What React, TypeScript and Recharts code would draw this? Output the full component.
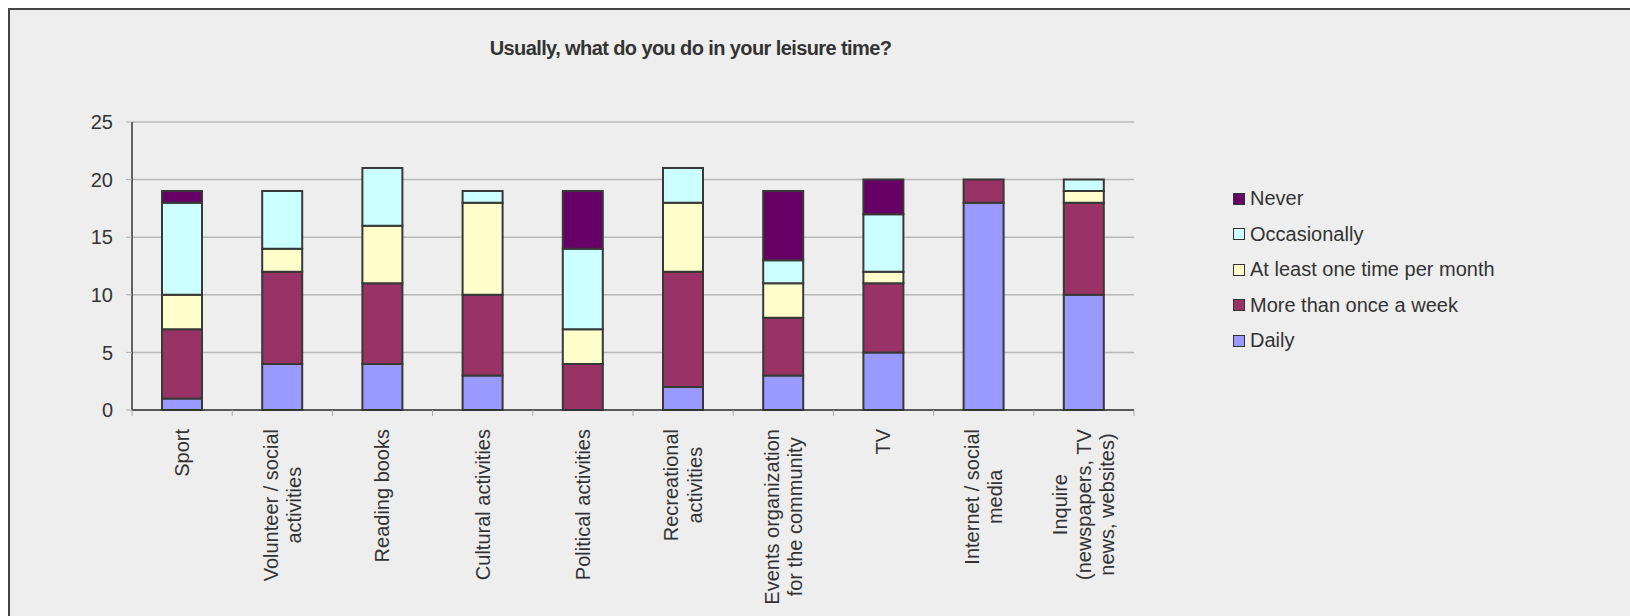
import { BarChart, Bar, XAxis, YAxis, CartesianGrid, Legend } from "recharts"

const categories = [
  "Sport",
  "Volunteer / social\nactivities",
  "Reading books",
  "Cultural activities",
  "Political activities",
  "Recreational\nactivities",
  "Events organization\nfor the community",
  "TV",
  "Internet / social\nmedia",
  "Inquire\n(newspapers, TV\nnews, websites)",
]

const daily = [1, 4, 4, 3, 0, 2, 3, 5, 18, 10]
const moreThanOnceAWeek = [6, 8, 7, 7, 4, 10, 5, 6, 2, 8]
const onceAMonth = [3, 2, 5, 8, 3, 6, 3, 1, 0, 1]
const occasionally = [8, 5, 5, 1, 7, 3, 2, 5, 0, 1]
const never = [1, 0, 0, 0, 5, 0, 6, 3, 0, 0]

const yTicks = [0, 5, 10, 15, 20, 25]

// bottom to top in the stack
const series = [
  { key: "daily", name: "Daily", color: "#9999ff", values: daily },
  { key: "week", name: "More than once a week", color: "#993366", values: moreThanOnceAWeek },
  { key: "month", name: "At least one time per month", color: "#ffffcc", values: onceAMonth },
  { key: "occ", name: "Occasionally", color: "#ccffff", values: occasionally },
  { key: "never", name: "Never", color: "#660066", values: never },
]

const data = categories.map((name, i) => {
  const row: Record<string, string | number> = { name }
  series.forEach((s) => (row[s.key] = s.values[i]))
  return row
})

const FONT = '"Liberation Sans", Arial, sans-serif'
const TEXT = "#333333"
const PLOT_W = 1002
const BAND = PLOT_W / categories.length
const LABEL_SIZE = 20

let ctx: CanvasRenderingContext2D | null = null
function textWidth(s: string) {
  if (!ctx) ctx = document.createElement("canvas").getContext("2d")
  if (!ctx) return s.length * 10
  ctx.font = `${LABEL_SIZE}px "Liberation Sans"`
  return ctx.measureText(s).width
}

function CategoryTick(props: any) {
  const { x, y, payload, index } = props
  const lines = String(payload.value).split("\n")
  const longest = Math.max(...lines.map(textWidth))
  const cy = y + 19 + longest / 2
  const lineH = 23.5
  return (
    <g>
      <line x1={x - BAND / 2} x2={x - BAND / 2} y1={y} y2={y + 6} stroke="#aaaaaa" />
      {index === categories.length - 1 && (
        <line x1={x + BAND / 2} x2={x + BAND / 2} y1={y} y2={y + 6} stroke="#aaaaaa" />
      )}
      {lines.map((line, i) => {
        const cx = x + (i - (lines.length - 1) / 2) * lineH
        return (
          <text
            key={i}
            x={cx}
            y={cy}
            dy="0.35em"
            textAnchor="middle"
            transform={`rotate(-90, ${cx}, ${cy})`}
            fill={TEXT}
            fontSize={LABEL_SIZE}
            fontFamily={FONT}
          >
            {line}
          </text>
        )
      })}
    </g>
  )
}

function LegendBox() {
  return (
    <div style={{ fontFamily: FONT, fontSize: 20, color: TEXT }}>
      {[...series].reverse().map((s) => (
        <div key={s.key} style={{ display: "flex", alignItems: "center", height: 35.5 }}>
          <span
            style={{
              display: "inline-block",
              width: 12,
              height: 12,
              boxSizing: "border-box",
              border: "1.5px solid #333",
              background: s.color,
              marginRight: 5,
            }}
          />
          <span style={{ whiteSpace: "nowrap" }}>{s.name}</span>
        </div>
      ))}
    </div>
  )
}

export default function App() {
  return (
    <>
      <style>{"html, body { overflow: hidden; } ::-webkit-scrollbar { display: none; }"}</style>
      <div
        style={{
          position: "fixed",
          left: 8,
          top: 8,
          right: 0,
          bottom: 0,
          overflow: "hidden",
          background: "#eeeeee",
          borderTop: "2px solid #444",
          borderLeft: "2px solid #444",
          fontFamily: FONT,
        }}
      >
        <div
          style={{
            position: "absolute",
            left: 0,
            top: 28,
            width: 1361,
            textAlign: "center",
            fontWeight: "bold",
            fontSize: 20,
            lineHeight: "20px",
            letterSpacing: -0.6,
            color: TEXT,
            zIndex: 1,
          }}
        >
          Usually, what do you do in your leisure time?
        </div>
        <BarChart
          width={1620}
          height={606}
          data={data}
          margin={{ top: 112, right: 496, left: 62, bottom: 6 }}
          style={{ fontFamily: FONT }}
        >
          <CartesianGrid vertical={false} stroke="#b8b8b8" strokeWidth={1.5} />
          <XAxis
            dataKey="name"
            interval={0}
            height={200}
            tickSize={0}
            tickMargin={0}
            tickLine={false}
            axisLine={{ stroke: "#333", strokeWidth: 1.5 }}
            tick={<CategoryTick />}
          />
          <YAxis
            width={60}
            domain={[0, 25]}
            ticks={yTicks}
            interval={0}
            tickSize={6}
            tickMargin={13}
            tickLine={{ stroke: "#aaaaaa" }}
            axisLine={{ stroke: "#333", strokeWidth: 1.5 }}
            tick={{ fill: TEXT, fontSize: 20, fontFamily: FONT }}
          />
          <Legend
            layout="vertical"
            align="center"
            verticalAlign="middle"
            wrapperStyle={{ left: 1223, top: 171, width: 330 }}
            content={() => <LegendBox />}
          />
          {series.map((s) => (
            <Bar
              key={s.key}
              dataKey={s.key}
              name={s.name}
              stackId="a"
              fill={s.color}
              stroke="#383838"
              strokeWidth={2}
              barSize={40}
              isAnimationActive={false}
            />
          ))}
        </BarChart>
      </div>
    </>
  )
}
